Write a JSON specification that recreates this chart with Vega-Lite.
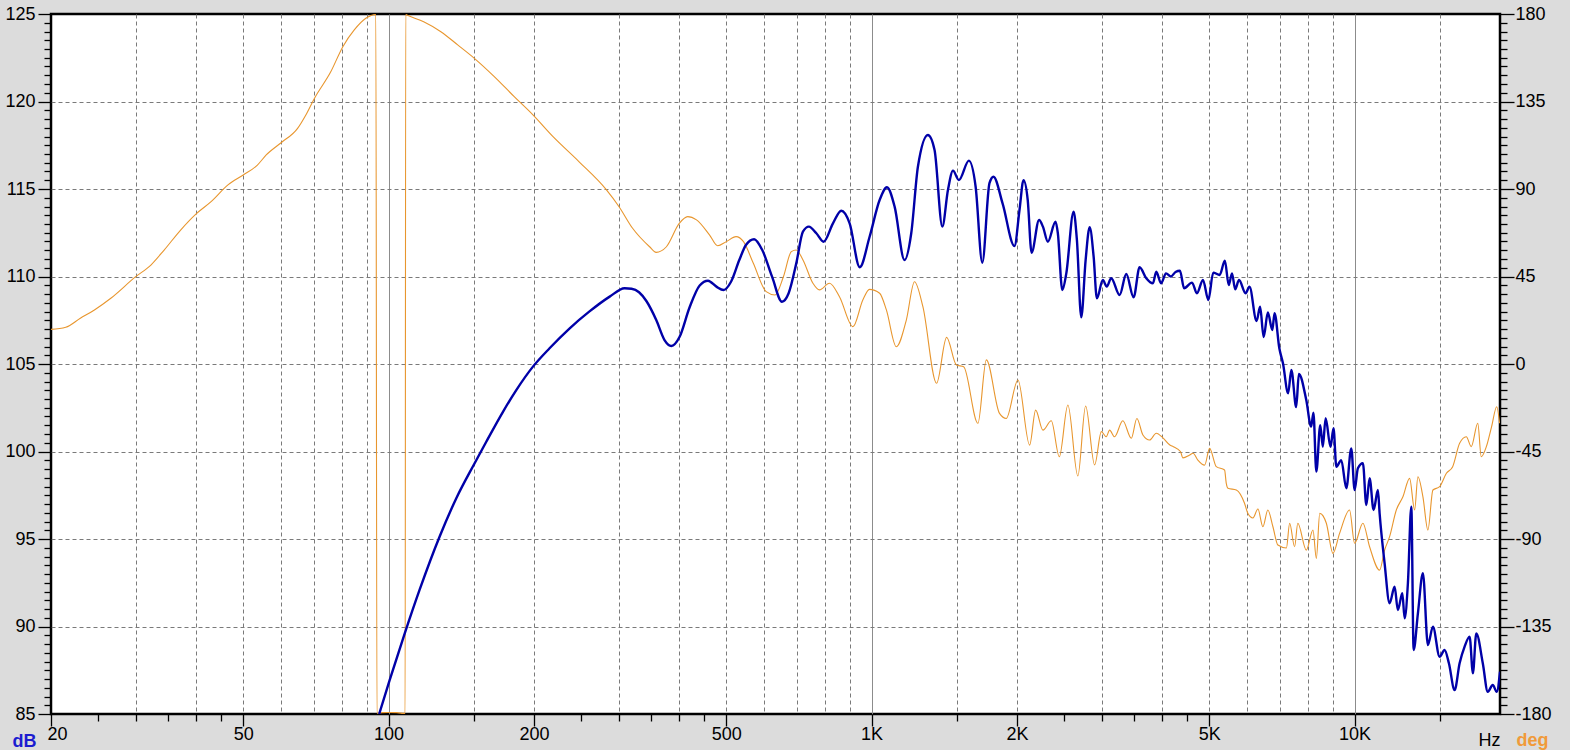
{
  "$schema": "https://vega.github.io/schema/vega-lite/v6.json",
  "width": 1449,
  "height": 700,
  "autosize": {"type": "none"},
  "padding": {"left": 51, "top": 14, "right": 70, "bottom": 36},
  "background": "#dcdcdc",
  "config": {
    "view": {"fill": "#ffffff", "stroke": "#000000", "strokeWidth": 2.5},
    "axis": {
      "labelFont": "Liberation Sans",
      "labelFontSize": 18,
      "labelColor": "#000000",
      "titleFont": "Liberation Sans",
      "titleFontSize": 18,
      "domain": false,
      "tickColor": "#000000",
      "tickWidth": 1.3,
      "gridColor": "#7a7a7a",
      "gridWidth": 1,
      "labelOverlap": false
    }
  },
  "datasets": {
    "phase": [
      {"f": 20, "deg": 17.8}, {"f": 21.46, "deg": 18.9}, {"f": 23.0, "deg": 23.5}, {"f": 24.6, "deg": 27.8},
      {"f": 26.6, "deg": 33.8}, {"f": 29.95, "deg": 44.9}, {"f": 32.2, "deg": 50.9}, {"f": 34.3, "deg": 58.6},
      {"f": 37.1, "deg": 68.9}, {"f": 39.9, "deg": 77.1}, {"f": 42.9, "deg": 83.5}, {"f": 46.5, "deg": 92.1},
      {"f": 50, "deg": 97.2}, {"f": 53.5, "deg": 102.3}, {"f": 55.8, "deg": 107.5}, {"f": 59.9, "deg": 113.8},
      {"f": 64.8, "deg": 121.2}, {"f": 67.4, "deg": 128.1}, {"f": 70.2, "deg": 136.6}, {"f": 75.9, "deg": 150.3},
      {"f": 80.4, "deg": 163.2}, {"f": 84.9, "deg": 171.8}, {"f": 89.7, "deg": 177.8}, {"f": 94.1, "deg": 179.8},
      {"f": 94.6, "deg": -179.6}, {"f": 97, "deg": -179.3}, {"f": 100, "deg": -179.2}, {"f": 104, "deg": -179.3},
      {"f": 108.2, "deg": -179.8}, {"f": 108.5, "deg": 179.8}, {"f": 109.1, "deg": 179.5}, {"f": 118.2, "deg": 176},
      {"f": 128.3, "deg": 170.9}, {"f": 139, "deg": 164.1}, {"f": 150.5, "deg": 157.2}, {"f": 165.5, "deg": 147.8},
      {"f": 182, "deg": 137.5}, {"f": 199, "deg": 128.1}, {"f": 219, "deg": 116.9}, {"f": 248, "deg": 104},
      {"f": 282, "deg": 89.8}, {"f": 300, "deg": 80.9}, {"f": 320, "deg": 69.8}, {"f": 347, "deg": 60.3},
      {"f": 358, "deg": 57.4}, {"f": 376, "deg": 60.3}, {"f": 400, "deg": 72.4}, {"f": 416, "deg": 75.8},
      {"f": 434, "deg": 74.1}, {"f": 462, "deg": 66.3}, {"f": 480, "deg": 60.8}, {"f": 500, "deg": 62.9},
      {"f": 524, "deg": 65.5}, {"f": 543, "deg": 62.9}, {"f": 569, "deg": 51.8}, {"f": 605, "deg": 37.2},
      {"f": 631, "deg": 35.5}, {"f": 657, "deg": 45}, {"f": 682, "deg": 57.8}, {"f": 698, "deg": 58.6},
      {"f": 721, "deg": 53.5}, {"f": 756, "deg": 41.5}, {"f": 780, "deg": 38.1}, {"f": 818, "deg": 41.5},
      {"f": 858, "deg": 34.6}, {"f": 915, "deg": 19.2}, {"f": 959, "deg": 32.9}, {"f": 990, "deg": 38.4},
      {"f": 1039, "deg": 36.4}, {"f": 1073, "deg": 27.8}, {"f": 1125, "deg": 8.9}, {"f": 1180, "deg": 22.6},
      {"f": 1227, "deg": 42.3}, {"f": 1277, "deg": 29.5}, {"f": 1363, "deg": -9.9}, {"f": 1430, "deg": 13.7},
      {"f": 1498, "deg": -0.5}, {"f": 1551, "deg": -1.4}, {"f": 1660, "deg": -30.5}, {"f": 1728, "deg": 2.1},
      {"f": 1840, "deg": -25.4}, {"f": 1900, "deg": -28}, {"f": 2009, "deg": -8.2}, {"f": 2124, "deg": -41.7},
      {"f": 2186, "deg": -23.7}, {"f": 2263, "deg": -34}, {"f": 2355, "deg": -29.2}, {"f": 2447, "deg": -47.7},
      {"f": 2549, "deg": -21.1}, {"f": 2673, "deg": -57.6}, {"f": 2774, "deg": -21.6}, {"f": 2896, "deg": -51.9},
      {"f": 2990, "deg": -34.8}, {"f": 3061, "deg": -37.4}, {"f": 3110, "deg": -34}, {"f": 3184, "deg": -37.4},
      {"f": 3312, "deg": -29.2}, {"f": 3449, "deg": -38.2}, {"f": 3542, "deg": -28}, {"f": 3645, "deg": -36.5},
      {"f": 3764, "deg": -39.1}, {"f": 3885, "deg": -35.6}, {"f": 4010, "deg": -38}, {"f": 4145, "deg": -41.7},
      {"f": 4214, "deg": -42.5}, {"f": 4359, "deg": -45}, {"f": 4412, "deg": -48.3}, {"f": 4556, "deg": -46.8},
      {"f": 4629, "deg": -45.9}, {"f": 4737, "deg": -49.4}, {"f": 4892, "deg": -52}, {"f": 5010, "deg": -43.4},
      {"f": 5172, "deg": -52.8}, {"f": 5380, "deg": -54.5}, {"f": 5424, "deg": -61.4}, {"f": 5467, "deg": -63.9},
      {"f": 5690, "deg": -64.8}, {"f": 5917, "deg": -71.6}, {"f": 6011, "deg": -76.8}, {"f": 6159, "deg": -79.2},
      {"f": 6307, "deg": -74.6}, {"f": 6458, "deg": -83.7}, {"f": 6613, "deg": -75.1}, {"f": 6775, "deg": -83.7},
      {"f": 6937, "deg": -93.1}, {"f": 7225, "deg": -94.6}, {"f": 7337, "deg": -81.9}, {"f": 7512, "deg": -94},
      {"f": 7628, "deg": -81.9}, {"f": 7942, "deg": -95.7}, {"f": 8201, "deg": -85.4}, {"f": 8332, "deg": -100},
      {"f": 8470, "deg": -76.8}, {"f": 8740, "deg": -81.9}, {"f": 9020, "deg": -97.4}, {"f": 9310, "deg": -87.1},
      {"f": 9762, "deg": -75.1}, {"f": 10000, "deg": -92.2}, {"f": 10403, "deg": -81.9}, {"f": 10741, "deg": -94},
      {"f": 11266, "deg": -106}, {"f": 11538, "deg": -95.7}, {"f": 11816, "deg": -88.8}, {"f": 12200, "deg": -75.1},
      {"f": 12590, "deg": -68.3}, {"f": 12998, "deg": -58.8}, {"f": 13312, "deg": -75.1}, {"f": 13523, "deg": -58},
      {"f": 13850, "deg": -68.3}, {"f": 14182, "deg": -85.4}, {"f": 14526, "deg": -64.8}, {"f": 14997, "deg": -63.1},
      {"f": 15490, "deg": -56.2}, {"f": 15960, "deg": -52.8}, {"f": 16497, "deg": -40.8}, {"f": 17030, "deg": -37.4},
      {"f": 17440, "deg": -42.5}, {"f": 17990, "deg": -30.5}, {"f": 18290, "deg": -47.7}, {"f": 18740, "deg": -42.5},
      {"f": 19210, "deg": -32.3}, {"f": 19690, "deg": -22}, {"f": 19960, "deg": -30.5}
    ],
    "spl": [
      {"f": 95.6, "db": 85.0}, {"f": 100.5, "db": 86.94}, {"f": 108, "db": 89.61}, {"f": 115.9, "db": 92.09},
      {"f": 127.5, "db": 95.13}, {"f": 138.1, "db": 97.33}, {"f": 150.7, "db": 99.33}, {"f": 159.3, "db": 100.56},
      {"f": 172.5, "db": 102.27}, {"f": 183.8, "db": 103.51}, {"f": 199, "db": 104.85}, {"f": 215.4, "db": 105.9},
      {"f": 237.1, "db": 107.04}, {"f": 260.2, "db": 107.99}, {"f": 286.9, "db": 108.85}, {"f": 308, "db": 109.33},
      {"f": 318.4, "db": 109.3}, {"f": 330, "db": 109.1}, {"f": 341.7, "db": 108.6}, {"f": 358.4, "db": 107.5},
      {"f": 372.6, "db": 106.37}, {"f": 385, "db": 106.03}, {"f": 400.2, "db": 106.54}, {"f": 419.8, "db": 108.23},
      {"f": 440.6, "db": 109.49}, {"f": 458.4, "db": 109.76}, {"f": 477.2, "db": 109.42}, {"f": 493.8, "db": 109.23},
      {"f": 511.6, "db": 109.7}, {"f": 532.2, "db": 110.94}, {"f": 549.3, "db": 111.8}, {"f": 571.2, "db": 112.13},
      {"f": 593.8, "db": 111.51}, {"f": 622.2, "db": 109.99}, {"f": 652.3, "db": 108.56}, {"f": 673.3, "db": 109.04},
      {"f": 698.3, "db": 110.75}, {"f": 720.8, "db": 112.56}, {"f": 741.6, "db": 112.85}, {"f": 768.4, "db": 112.47},
      {"f": 795.4, "db": 111.99}, {"f": 831.8, "db": 113.04}, {"f": 865.5, "db": 113.76}, {"f": 900.6, "db": 113.04},
      {"f": 945.1, "db": 110.53}, {"f": 990.5, "db": 112.27}, {"f": 1039, "db": 114.37}, {"f": 1076, "db": 115.1},
      {"f": 1116, "db": 113.99}, {"f": 1170, "db": 110.94}, {"f": 1208, "db": 112.47}, {"f": 1247, "db": 116.27},
      {"f": 1308, "db": 118.09}, {"f": 1350, "db": 117.23}, {"f": 1401, "db": 112.85}, {"f": 1439, "db": 114.94},
      {"f": 1474, "db": 116.05}, {"f": 1516, "db": 115.51}, {"f": 1590, "db": 116.62}, {"f": 1642, "db": 115.13},
      {"f": 1695, "db": 110.79}, {"f": 1754, "db": 115.33}, {"f": 1788, "db": 115.7}, {"f": 1867, "db": 114.18},
      {"f": 1976, "db": 111.74}, {"f": 2024, "db": 113.8}, {"f": 2063, "db": 115.51}, {"f": 2105, "db": 114.37},
      {"f": 2144, "db": 111.36}, {"f": 2222, "db": 113.23}, {"f": 2263, "db": 112.85}, {"f": 2317, "db": 111.99},
      {"f": 2403, "db": 113.13}, {"f": 2430, "db": 112.47}, {"f": 2482, "db": 109.23}, {"f": 2530, "db": 110.18},
      {"f": 2619, "db": 113.7}, {"f": 2661, "db": 112.09}, {"f": 2717, "db": 107.67}, {"f": 2774, "db": 110.94},
      {"f": 2828, "db": 112.81}, {"f": 2882, "db": 111.13}, {"f": 2927, "db": 108.75}, {"f": 3011, "db": 109.8},
      {"f": 3068, "db": 109.42}, {"f": 3134, "db": 109.9}, {"f": 3262, "db": 108.94}, {"f": 3367, "db": 110.14},
      {"f": 3487, "db": 108.81}, {"f": 3588, "db": 110.53}, {"f": 3704, "db": 109.9}, {"f": 3823, "db": 109.61},
      {"f": 3885, "db": 110.27}, {"f": 3975, "db": 109.61}, {"f": 4069, "db": 110.18}, {"f": 4165, "db": 110},
      {"f": 4259, "db": 110.26}, {"f": 4349, "db": 110.33}, {"f": 4436, "db": 109.33}, {"f": 4607, "db": 109.65},
      {"f": 4715, "db": 109.04}, {"f": 4854, "db": 109.8}, {"f": 4980, "db": 108.66}, {"f": 5097, "db": 110.22},
      {"f": 5257, "db": 110.09}, {"f": 5387, "db": 110.9}, {"f": 5488, "db": 109.51}, {"f": 5574, "db": 110.18},
      {"f": 5659, "db": 109.27}, {"f": 5764, "db": 109.8}, {"f": 5947, "db": 109.04}, {"f": 6058, "db": 109.42},
      {"f": 6267, "db": 107.46}, {"f": 6373, "db": 108.27}, {"f": 6481, "db": 106.54}, {"f": 6613, "db": 107.94},
      {"f": 6755, "db": 106.94}, {"f": 6827, "db": 107.91}, {"f": 6985, "db": 105.9}, {"f": 7107, "db": 105.04},
      {"f": 7284, "db": 103.33}, {"f": 7396, "db": 104.66}, {"f": 7570, "db": 102.54}, {"f": 7667, "db": 104.43},
      {"f": 7942, "db": 102.94}, {"f": 8130, "db": 101.42}, {"f": 8218, "db": 102.22}, {"f": 8332, "db": 98.85},
      {"f": 8490, "db": 101.51}, {"f": 8594, "db": 100.27}, {"f": 8710, "db": 101.9}, {"f": 8915, "db": 100.27},
      {"f": 9044, "db": 101.33}, {"f": 9166, "db": 99.13}, {"f": 9384, "db": 99.51}, {"f": 9612, "db": 97.9},
      {"f": 9843, "db": 100.18}, {"f": 10000, "db": 97.8}, {"f": 10158, "db": 99.04}, {"f": 10404, "db": 99.33},
      {"f": 10574, "db": 96.94}, {"f": 10741, "db": 98.47}, {"f": 10948, "db": 96.66}, {"f": 11175, "db": 97.8},
      {"f": 11266, "db": 96.47}, {"f": 11538, "db": 93.61}, {"f": 11816, "db": 91.33}, {"f": 12101, "db": 92.27},
      {"f": 12290, "db": 90.94}, {"f": 12555, "db": 91.9}, {"f": 12692, "db": 90.47}, {"f": 12893, "db": 92.47},
      {"f": 13104, "db": 96.85}, {"f": 13250, "db": 88.66}, {"f": 13523, "db": 90.75}, {"f": 13849, "db": 93.04},
      {"f": 14182, "db": 88.94}, {"f": 14526, "db": 89.99}, {"f": 14997, "db": 88.27}, {"f": 15358, "db": 88.66},
      {"f": 15676, "db": 87.9}, {"f": 16108, "db": 86.37}, {"f": 16497, "db": 87.9}, {"f": 16895, "db": 88.85},
      {"f": 17303, "db": 89.42}, {"f": 17577, "db": 87.33}, {"f": 17862, "db": 89.61}, {"f": 18425, "db": 87.9},
      {"f": 18867, "db": 86.27}, {"f": 19320, "db": 86.66}, {"f": 19690, "db": 86.27}, {"f": 20000, "db": 87.42}
    ]
  },
  "encoding": {
    "x": {
      "field": "f",
      "type": "quantitative",
      "scale": {"type": "log", "domain": [20, 20000], "nice": false},
      "axis": {
        "orient": "bottom",
        "values": [20, 25, 30, 35, 40, 45, 50, 60, 70, 80, 90, 100, 150, 200, 250, 300, 350, 400, 450, 500, 600, 700, 800, 900, 1000, 1500, 2000, 2500, 3000, 3500, 4000, 4500, 5000, 6000, 7000, 8000, 9000, 10000, 15000],
        "tickSize": 12,
        "labelPadding": -1,
        "labelFlush": true,
        "labelFlushOffset": 4,
        "labelExpr": "indexof([20,50,100,200,500],datum.value) >= 0 ? '' + datum.value : (indexof([1000,2000,5000,10000],datum.value) >= 0 ? (datum.value/1000) + 'K' : '')",
        "tickOpacity": {"condition": {"test": "indexof([60,70,80,90,600,700,800,900,6000,7000,8000,9000], datum.value) >= 0", "value": 0}, "value": 1},
        "tickDash": {"condition": {"test": "indexof([20,50,100,200,500,1000,2000,5000,10000], datum.value) >= 0", "value": [100, 0]}, "value": [7, 100]},
        "grid": true,
        "gridOpacity": {"condition": {"test": "indexof([20,25,35,45,250,350,450,2500,3500,4500], datum.value) >= 0", "value": 0}, "value": 1},
        "gridDash": {"condition": {"test": "indexof([100,1000,10000], datum.value) >= 0", "value": [1000, 0]}, "value": [4, 3]},
        "gridColor": {"condition": {"test": "indexof([100,1000,10000], datum.value) >= 0", "value": "#8c8c8c"}, "value": "#7a7a7a"},
        "title": "Hz",
        "titleX": 1438,
        "titleY": 31,
        "titleAlign": "center",
        "titleBaseline": "alphabetic",
        "titleAngle": 0,
        "titleFontWeight": "normal",
        "titleColor": "#000000"
      }
    }
  },
  "layer": [
    {
      "data": {"name": "phase"},
      "mark": {"type": "line", "color": "#e8962e", "strokeWidth": 1.1, "clip": true, "strokeJoin": "round", "interpolate": "monotone"},
      "encoding": {
        "y": {
          "field": "deg",
          "type": "quantitative",
          "scale": {"domain": [-180, 180], "nice": false, "zero": false},
          "axis": {
            "orient": "right",
            "values": [-180, -175.5, -171, -166.5, -162, -157.5, -153, -148.5, -144, -139.5, -135, -130.5, -126, -121.5, -117, -112.5, -108, -103.5, -99, -94.5, -90, -85.5, -81, -76.5, -72, -67.5, -63, -58.5, -54, -49.5, -45, -40.5, -36, -31.5, -27, -22.5, -18, -13.5, -9, -4.5, 0, 4.5, 9, 13.5, 18, 22.5, 27, 31.5, 36, 40.5, 45, 49.5, 54, 58.5, 63, 67.5, 72, 76.5, 81, 85.5, 90, 94.5, 99, 103.5, 108, 112.5, 117, 121.5, 126, 130.5, 135, 139.5, 144, 148.5, 153, 157.5, 162, 166.5, 171, 175.5, 180],
            "tickSize": 14,
            "labelPadding": 1,
            "labelExpr": "datum.value % 45 === 0 ? '' + datum.value : ''",
            "tickDash": {"condition": {"test": "datum.value % 45 === 0", "value": [100, 0]}, "value": [7, 100]},
            "grid": false,
            "title": "deg",
            "titleX": 16,
            "titleY": 731,
            "titleAngle": 0,
            "titleAlign": "left",
            "titleBaseline": "alphabetic",
            "titleFontWeight": "bold",
            "titleColor": "#f09a3a"
          }
        }
      }
    },
    {
      "data": {"name": "spl"},
      "mark": {"type": "line", "color": "#0000a8", "strokeWidth": 2.4, "clip": true, "strokeJoin": "round", "interpolate": "monotone"},
      "encoding": {
        "y": {
          "field": "db",
          "type": "quantitative",
          "scale": {"domain": [85, 125], "nice": false, "zero": false},
          "axis": {
            "orient": "left",
            "values": [85, 85.5, 86, 86.5, 87, 87.5, 88, 88.5, 89, 89.5, 90, 90.5, 91, 91.5, 92, 92.5, 93, 93.5, 94, 94.5, 95, 95.5, 96, 96.5, 97, 97.5, 98, 98.5, 99, 99.5, 100, 100.5, 101, 101.5, 102, 102.5, 103, 103.5, 104, 104.5, 105, 105.5, 106, 106.5, 107, 107.5, 108, 108.5, 109, 109.5, 110, 110.5, 111, 111.5, 112, 112.5, 113, 113.5, 114, 114.5, 115, 115.5, 116, 116.5, 117, 117.5, 118, 118.5, 119, 119.5, 120, 120.5, 121, 121.5, 122, 122.5, 123, 123.5, 124, 124.5, 125],
            "tickSize": 13,
            "labelPadding": 3,
            "labelExpr": "datum.value % 5 === 0 ? '' + datum.value : ''",
            "tickDash": {"condition": {"test": "datum.value % 5 === 0", "value": [100, 0]}, "value": [7, 100]},
            "grid": true,
            "gridDash": [4, 3],
            "gridOpacity": {"condition": {"test": "datum.value % 5 === 0 && datum.value > 85 && datum.value < 125", "value": 1}, "value": 0},
            "title": "dB",
            "titleX": -39,
            "titleY": 732,
            "titleAngle": 0,
            "titleAlign": "left",
            "titleBaseline": "alphabetic",
            "titleFontWeight": "bold",
            "titleColor": "#1c1cd0"
          }
        }
      }
    }
  ],
  "resolve": {"scale": {"y": "independent"}}
}
